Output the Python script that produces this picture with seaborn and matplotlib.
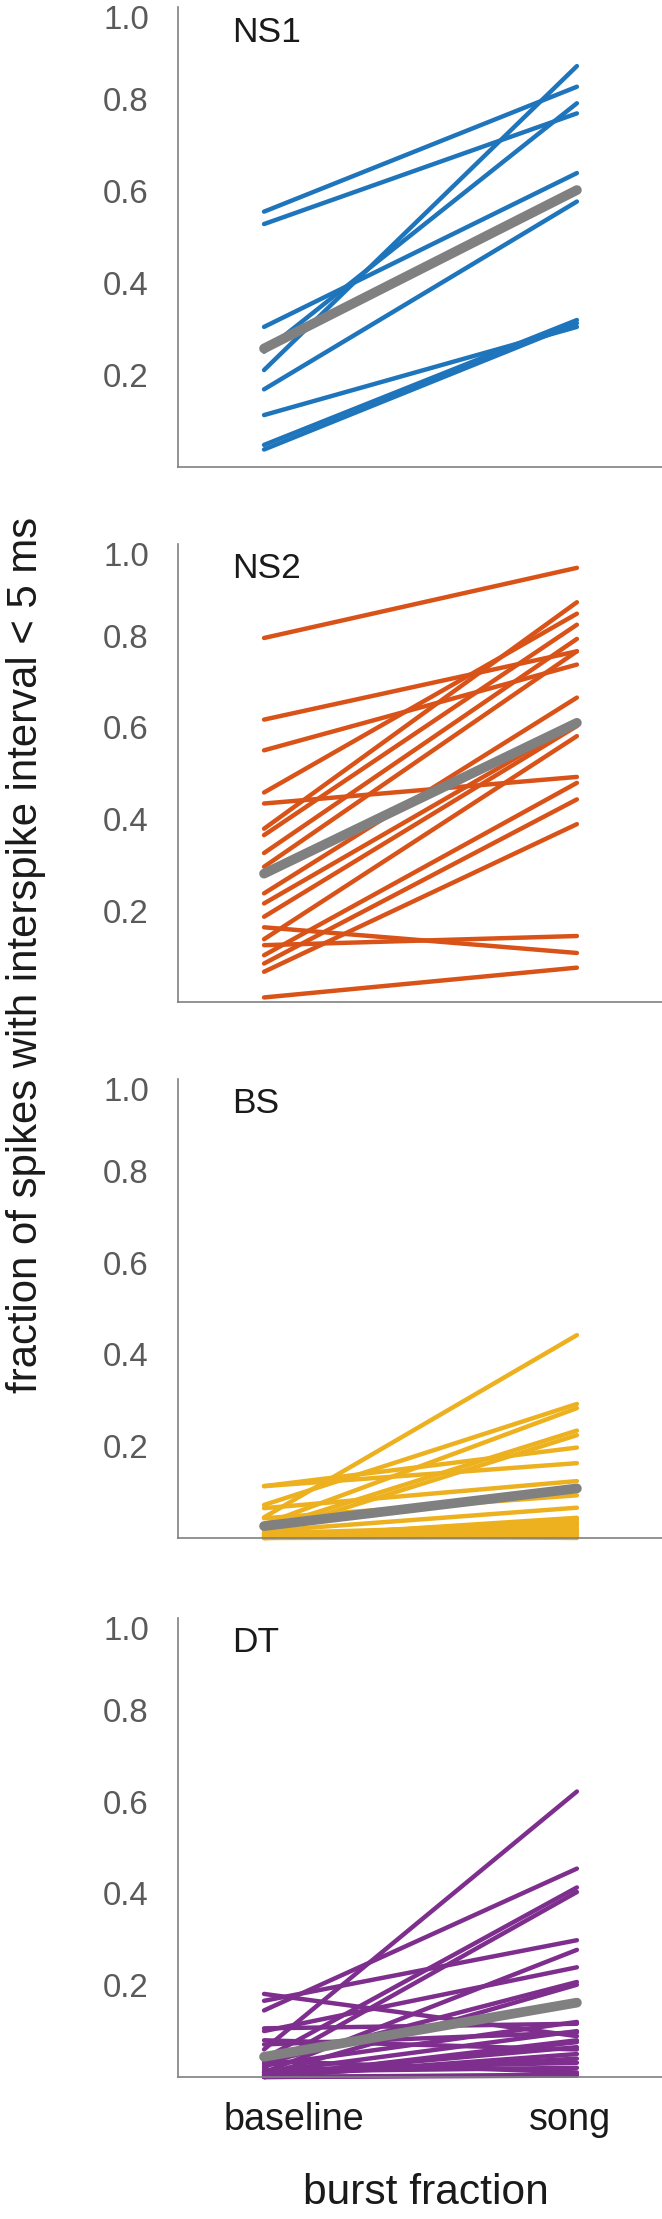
import matplotlib
matplotlib.use("Agg")
import matplotlib.pyplot as plt
from matplotlib import font_manager
from matplotlib.transforms import ScaledTranslation
import numpy as np
import pandas as pd
import seaborn as sns

# ---------------- data ----------------
conditions = ["baseline", "song"]
panel_names = ["NS1", "NS2", "BS", "DT"]
panel_colors = ["#1f75bc", "#d95319", "#edb120", "#7e2f8e"]
mean_color = "#808080"
y_ticks = [0.2, 0.4, 0.6, 0.8, 1.0]
y_label = "fraction of spikes with interspike interval < 5 ms"
x_label = "burst fraction"

ns1_baseline = [0.555, 0.528, 0.304, 0.250, 0.210, 0.168, 0.112, 0.047, 0.037]
ns1_song = [0.827, 0.769, 0.639, 0.791, 0.872, 0.577, 0.304, 0.319, 0.312]
ns1_mean = [0.257, 0.602]

ns2_baseline = [0.795, 0.617, 0.434, 0.125, 0.164, 0.011, 0.550, 0.458, 0.379,
                0.365, 0.326, 0.296, 0.238, 0.216, 0.187, 0.138, 0.103, 0.085, 0.067]
ns2_song = [0.948, 0.766, 0.492, 0.145, 0.108, 0.076, 0.737, 0.848, 0.873,
            0.824, 0.793, 0.766, 0.665, 0.610, 0.603, 0.581, 0.479, 0.443, 0.389]
ns2_mean = [0.281, 0.610]

bs_baseline = [0.113, 0.113, 0.045, 0.072, 0.065, 0.030, 0.020, 0.010, 0.043, 0.015,
               0.000, 0.002, 0.005, 0.010, 0.000, 0.003, 0.008, 0.000, 0.012, 0.004, 0.000, 0.006]
bs_song = [0.163, 0.197, 0.442, 0.292, 0.124, 0.283, 0.234, 0.224, 0.093, 0.066,
           0.044, 0.040, 0.034, 0.030, 0.025, 0.020, 0.015, 0.012, 0.008, 0.005, 0.002, 0.000]
bs_mean = [0.026, 0.108]

dt_baseline = [0.060, 0.145, 0.040, 0.020, 0.166, 0.010, 0.100, 0.030, 0.005, 0.181,
               0.106, 0.071, 0.080, 0.000, 0.015, 0.000, 0.025, 0.005, 0.000, 0.035,
               0.010, 0.000, 0.000, 0.012, 0.003]
dt_song = [0.622, 0.454, 0.413, 0.403, 0.298, 0.277, 0.239, 0.207, 0.201, 0.089,
           0.116, 0.097, 0.060, 0.076, 0.031, 0.003, 0.120, 0.065, 0.050, 0.010,
           0.100, 0.080, 0.005, 0.020, 0.040]
dt_mean = [0.044, 0.162]

panel_baseline = [ns1_baseline, ns2_baseline, bs_baseline, dt_baseline]
panel_song = [ns1_song, ns2_song, bs_song, dt_song]
panel_mean = [ns1_mean, ns2_mean, bs_mean, dt_mean]

# ---------------- style ----------------
sns.set_style("white")
names = {f.name for f in font_manager.fontManager.ttflist}
if "Liberation Sans Narrow" in names:
    fam = ["Liberation Sans Narrow", "DejaVu Sans"]
    k = 1.0
else:
    fam = ["Liberation Sans", "DejaVu Sans"]
    k = 0.85
plt.rcParams["font.family"] = fam

W, H = 662, 2219
fig = plt.figure(figsize=(W / 100, H / 100), dpi=100)

ax_left_px = 178
panel_px = [(7.3, 466.5), (544, 1002.5), (1079, 1538), (1618, 2077)]
spine_gray = "#808080"

for i, (name, col) in enumerate(zip(panel_names, panel_colors)):
    top_px, bot_px = panel_px[i]
    ax = fig.add_axes([ax_left_px / W, 1 - bot_px / H,
                       (W - ax_left_px) / W, (bot_px - top_px) / H])
    base = panel_baseline[i]
    song = panel_song[i]
    rows = []
    for c in range(len(base)):
        rows.append({"cell": c, "x": 0, "value": base[c]})
        rows.append({"cell": c, "x": 1, "value": song[c]})
    df = pd.DataFrame(rows)
    sns.lineplot(data=df, x="x", y="value", units="cell", estimator=None,
                 color=col, lw=3.2, ax=ax, legend=False,
                 solid_capstyle="round", clip_on=False, zorder=2)
    dfm = pd.DataFrame({"x": [0, 1], "value": panel_mean[i]})
    sns.lineplot(data=dfm, x="x", y="value", color=mean_color, lw=7, ax=ax,
                 legend=False, solid_capstyle="round", clip_on=False, zorder=3)

    ax.set_xlim(-0.275, 1.272)
    ax.set_ylim(0, 1)
    ax.set_xlabel("")
    ax.set_ylabel("")
    for s in ["top", "right"]:
        ax.spines[s].set_visible(False)
    for s in ["left", "bottom"]:
        ax.spines[s].set_color(spine_gray)
        ax.spines[s].set_linewidth(1.2)
    ax.set_yticks(y_ticks)
    ax.set_yticklabels([f"{t:.1f}" for t in y_ticks])
    ax.tick_params(axis="y", direction="in", length=7, width=1.1,
                   color=spine_gray, labelsize=28 * k, labelcolor="#5a5a5a", pad=21)
    lab = ax.get_yticklabels()[-1]
    lab.set_transform(lab.get_transform() + ScaledTranslation(0, -10 / 100, fig.dpi_scale_trans))

    ax.text(0.1116, 0.925, name, transform=ax.transAxes, fontsize=30 * k,
            color="#1a1a1a", ha="left", va="baseline")

    if i == len(panel_names) - 1:
        ax.set_xticks([0, 1])
        ax.set_xticklabels(conditions)
        ax.tick_params(axis="x", length=0, labelsize=32 * k, labelcolor="#1a1a1a", pad=18)
        shifts = [30, -7]
        for lb, sh in zip(ax.get_xticklabels(), shifts):
            lb.set_transform(lb.get_transform() + ScaledTranslation(sh / 100, 0, fig.dpi_scale_trans))
    else:
        ax.set_xticks([])
    ax.set_facecolor("none")

fig.text(26 / W, 1 - 955 / H, y_label, rotation=90, ha="center", va="center",
         fontsize=35.5 * k, color="#1a1a1a")
fig.text(426 / W, 1 - 2204 / H, x_label, ha="center", va="baseline",
         fontsize=36 * k, color="#1a1a1a")

fig.savefig("out.png", dpi=100, facecolor="white")
